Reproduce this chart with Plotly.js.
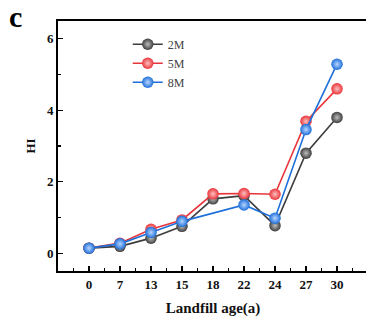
<!DOCTYPE html>
<html>
<head>
<meta charset="utf-8">
<script src="https://cdn.plot.ly/plotly-3.0.1.min.js"></script>
<style>
html,body{margin:0;padding:0;overflow:hidden;background:#fff;width:366px;height:325px;}
#chart{width:368px;height:325px;}
</style>
</head>
<body>
<div id="chart"></div>
<script>
const categories = ['0','7','13','15','18','22','24','27','30'];
const hi2M = [0.14, 0.19, 0.42, 0.75, 1.52, 1.61, 0.77, 2.80, 3.80];
const hi5M = [0.14, 0.28, 0.67, 0.93, 1.66, 1.67, 1.65, 3.69, 4.60];
const hi8M = [0.14, 0.26, 0.58, 0.89, null, 1.35, 0.98, 3.46, 5.29];
const seriesNames = ['2M','5M','8M'];

const xIdx = categories.map((c, i) => i);
const colors = ['#3d3d3d', '#e8353b', '#1e6fd9'];
const glow = ['#bdbdbd', '#ffc0c0', '#b8d6ff'];
const data = [hi2M, hi5M, hi8M].map((ys, k) => ({
  x: xIdx, y: ys, name: seriesNames[k], type: 'scatter', mode: 'lines+markers',
  connectgaps: true,
  line: {color: colors[k], width: 1.6},
  marker: {color: colors[k], size: 11.5, gradient: {type: 'radial', color: glow[k]}, line: {width: 0}}
}));

const serif = 'Liberation Serif, Times New Roman, serif';
const layout = {
  width: 368, height: 325,
  margin: {l: 58, r: 0, t: 21, b: 54},
  paper_bgcolor: '#fff', plot_bgcolor: '#fff',
  showlegend: true,
  legend: {x: 0.225, y: 0.965, xanchor: 'left', yanchor: 'top', bgcolor: 'rgba(0,0,0,0)',
           font: {family: serif, size: 12, color: '#444'}, tracegroupgap: 0},
  xaxis: {
    range: [-1, 9], tickvals: xIdx, ticktext: categories,
    showgrid: false, zeroline: false, showline: true, linecolor: '#000', linewidth: 2, mirror: true,
    ticks: 'inside', ticklen: 5, tickwidth: 1.2, tickcolor: '#000',
    minor: {dtick: 0.5, ticks: 'inside', ticklen: 3, tickwidth: 1.2, tickcolor: '#000', showgrid: false},
    tickfont: {family: serif, size: 13, color: '#111', weight: 'bold'},
    title: {text: '<b>Landfill age(a)</b>', font: {family: serif, size: 15, color: '#111'}, standoff: 12}
  },
  yaxis: {
    range: [-0.5, 6.5], tickvals: [0, 2, 4, 6],
    showgrid: false, zeroline: false, showline: true, linecolor: '#000', linewidth: 2, mirror: true,
    ticks: 'inside', ticklen: 5, tickwidth: 1.2, tickcolor: '#000',
    minor: {tickvals: [1, 3, 5], ticks: 'inside', ticklen: 3, tickwidth: 1.2, tickcolor: '#000', showgrid: false},
    tickfont: {family: serif, size: 13, color: '#111', weight: 'bold'},
    title: {text: '<b>HI</b>', font: {family: serif, size: 13, color: '#111'}, standoff: 8}
  },
  annotations: [{
    text: '<b>c</b>', xref: 'paper', yref: 'paper', x: -0.137, y: 1.016,
    xanchor: 'center', yanchor: 'middle', showarrow: false,
    font: {family: serif, size: 30, color: '#000'}
  }]
};
Plotly.newPlot('chart', data, layout, {displayModeBar: false, staticPlot: true});
</script>
</body>
</html>
